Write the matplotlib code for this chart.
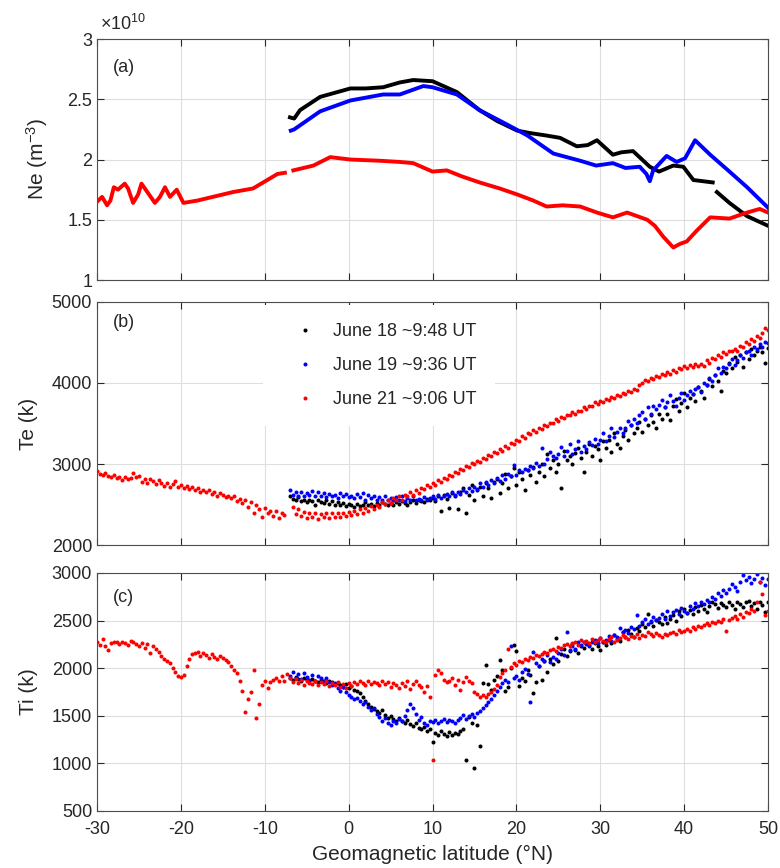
"""
plot.py - Ne / Te / Ti along three satellite passes vs geomagnetic latitude
"""

import numpy as np
import matplotlib
matplotlib.use("Agg")
import matplotlib.pyplot as plt

plt.rcParams["font.family"] = ["Liberation Sans", "DejaVu Sans"]
plt.rcParams["mathtext.fontset"] = "custom"
plt.rcParams["mathtext.rm"] = "Liberation Sans"
plt.rcParams["mathtext.it"] = "Liberation Sans:italic"
plt.rcParams["axes.unicode_minus"] = False

nan = np.nan

# ── Data ───────────────────────────────────────────────────────────────────────
LABELS = ["June 18 ~9:48 UT", "June 19 ~9:36 UT", "June 21 ~9:06 UT"]
COLORS = ["black", "blue", "red"]

# Ne (units of 1e10 m^-3)
NE_LAT_RED = [-30, -29.4, -28.8, -28.4, -28.0, -27.5, -26.7, -26.3, -25.7, -25.1,
              -24.7, -23.9, -23.1, -22.5, -21.9, -21.3, -20.5, -19.7, -18.0, -16.2,
              -13.8, -11.4, -9.7, -8.5, -7.6, -7.0, -6.6, -4.2, -2.2, 0.2,
              3.7, 6.1, 7.7, 10.0, 11.7, 13.5, 15.6, 18.0, 20.1, 22.0,
              23.6, 25.5, 27.6, 29.6, 31.5, 33.2, 35.6, 36.5, 37.5, 38.7,
              39.5, 40.3, 41.5, 43.1, 45.4, 47.5, 49.0, 50.0]
NE_RED = [1.65, 1.69, 1.62, 1.66, 1.77, 1.75, 1.80, 1.76, 1.64, 1.71,
          1.80, 1.72, 1.64, 1.69, 1.77, 1.69, 1.75, 1.64, 1.66, 1.69,
          1.73, 1.76, 1.83, 1.88, 1.89, nan, 1.91, 1.95, 2.02, 2.00,
          1.99, 1.98, 1.97, 1.90, 1.91, 1.86, 1.81, 1.76, 1.71, 1.66,
          1.61, 1.62, 1.61, 1.56, 1.52, 1.56, 1.50, 1.45, 1.36, 1.27,
          1.30, 1.32, 1.41, 1.52, 1.51, 1.56, 1.59, 1.56]

NE_LAT_BLACK = [-7.0, -6.5, -5.8, -3.4, 0.2, 2.0, 4.1, 6.1, 7.7, 10.0,
                12.9, 15.6, 17.7, 20.1, 21.6, 23.5, 25.2, 27.2, 28.5, 29.6,
                31.5, 32.5, 33.9, 35.9, 37.0, 38.7, 39.9, 41.1, 43.4, 43.7,
                43.9, 45.4, 47.5, 50.0]
NE_BLACK = [2.35, 2.34, 2.41, 2.52, 2.59, 2.59, 2.60, 2.64, 2.66, 2.65,
            2.56, 2.41, 2.32, 2.24, 2.22, 2.20, 2.18, 2.11, 2.12, 2.16,
            2.04, 2.06, 2.07, 1.94, 1.90, 1.95, 1.94, 1.83, 1.81, nan,
            1.73, 1.64, 1.53, 1.45]

NE_LAT_BLUE = [-6.9, -6.5, -3.4, 0.2, 4.1, 6.1, 8.9, 10.0, 12.9, 15.6,
               18.9, 21.3, 24.4, 27.6, 29.5, 31.5, 33.0, 34.7, 35.5, 35.9,
               36.3, 37.9, 39.1, 40.1, 41.3, 43.1, 45.4, 47.5, 50.0]
NE_BLUE = [2.24, 2.25, 2.40, 2.49, 2.54, 2.54, 2.61, 2.60, 2.54, 2.41,
           2.29, 2.20, 2.05, 1.99, 1.95, 1.97, 1.93, 1.94, 1.88, 1.82,
           1.91, 2.03, 1.98, 2.01, 2.16, 2.04, 1.90, 1.77, 1.60]

# Te / Ti samples every 1/3 degree
LAT_RED = np.round(np.arange(-30, 50 + 1e-6, 1 / 3), 2)   # 241 samples
LAT_BB  = np.round(np.arange(-7, 50 + 1e-6, 1 / 3), 2)    # 172 samples

TE_RED = [2910, 2880, 2860, 2890, 2850, 2840, 2860, 2830, 2845, 2800, 2840, 2820,
          2830, 2890, 2840, 2850, 2780, 2810, 2760, 2820, 2790, 2750, 2800, 2770,
          2730, 2770, 2720, 2750, 2790, 2720, 2740, 2700, 2730, 2690, 2720, 2680,
          2700, 2660, 2680, 2650, 2680, 2630, 2660, 2600, 2640, 2620, 2590, 2610,
          2580, 2600, 2540, 2570, 2520, 2560, 2470, 2530, 2400, 2500, 2450, 2350,
          2460, 2400, 2420, 2360, 2420, 2330, 2400, 2370, nan, nan, 2470, 2380,
          2440, 2360, 2410, 2330, 2400, 2350, 2390, 2320, 2380, 2340, 2400, 2330,
          2390, 2340, 2400, 2340, 2390, 2360, 2410, 2370, 2420, 2380, 2440, 2400,
          2460, 2420, 2480, 2450, 2500, 2470, 2530, 2510, 2550, 2520, 2580, 2560,
          2600, 2560, 2620, 2600, 2650, 2620, 2680, 2640, 2700, 2690, 2740, 2720,
          2760, 2740, 2800, 2780, 2830, 2810, 2870, 2850, 2900, 2890, 2940, 2920,
          2980, 2960, 3010, 3000, 3040, 3030, 3080, 3060, 3110, 3100, 3150, 3130,
          3180, 3160, 3220, 3200, 3260, 3250, 3300, 3290, 3340, 3320, 3380, 3370,
          3420, 3400, 3450, 3430, 3480, 3470, 3510, 3500, 3550, 3530, 3580, 3570,
          3610, 3600, 3640, 3620, 3660, 3650, 3700, 3680, 3720, 3710, 3760, 3740,
          3780, 3770, 3800, 3790, 3830, 3820, 3850, 3840, 3880, 3870, 3900, 3890,
          3930, 3910, 3970, 4000, 4040, 4020, 4060, 4050, 4090, 4080, 4110, 4100,
          4130, 4110, 4160, 4140, 4190, 4170, 4210, 4190, 4220, 4200, 4230, 4210,
          4240, 4210, 4280, 4250, 4310, 4290, 4340, 4320, 4380, 4360, 4400, 4390,
          4420, 4400, 4460, 4440, 4500, 4480, 4540, 4520, 4580, 4560, 4620, 4680,
          4650]

TE_BLUE = [2680, 2620, 2660, 2610, 2650, 2600, 2640, 2620, 2670, 2600, 2650, 2610,
           2640, 2590, 2630, 2600, 2620, 2580, 2640, 2600, 2630, 2590, 2610, 2580,
           2630, 2590, 2640, 2560, 2620, 2580, 2600, 2560, 2590, 2550, 2600, 2560,
           2580, 2550, 2590, 2560, 2600, 2540, 2580, 2560, 2600, 2550, 2570, 2560,
           2590, 2560, 2580, 2600, 2570, 2620, 2580, 2600, 2630, 2600, 2650, 2620,
           2660, 2630, 2680, 2650, 2700, 2670, 2720, 2690, 2760, 2720, 2780, 2740,
           2800, 2760, 2830, 2790, 2860, 2820, 2880, 2850, 2990, 2870, 2920, 2900,
           2940, 2920, 2980, 2950, 3010, 2970, 3200, 3000, 3060, 3150, 3100, 3080,
           3120, 3210, 3100, 3160, 3250, 3120, 3190, 3280, 3150, 3220, 3190, 3270,
           3230, 3310, 3250, 3300, 3380, 3280, 3350, 3450, 3330, 3400, 3440, 3380,
           3450, 3530, 3480, 3550, 3500, 3600, 3640, 3560, 3700, 3620, 3720, 3680,
           3730, 3790, 3700, 3760, 3850, 3780, 3720, 3820, 3880, 3790, 3850, 3900,
           3860, 3920, 3950, 3890, 4000, 3970, 4060, 4020, 4100, 4180, 4120, 4200,
           4180, 4240, 4300, 4220, 4280, 4350, 4310, 4380, 4400, 4350, 4450, 4420,
           4480, 4450, 4500, 4490]

TE_BLACK = [2600, 2570, 2560, 2590, 2540, 2560, 2530, 2550, 2540, 2500, 2560, 2530,
            2520, 2550, 2510, 2540, 2500, 2530, 2490, 2520, 2480, 2510, 2500, 2470,
            2510, 2480, 2500, 2530, 2490, 2510, 2480, 2520, 2500, 2530, 2510, 2490,
            2520, 2500, 2530, 2510, 2540, 2520, 2500, 2530, 2550, 2520, 2560, 2540,
            2530, 2570, 2550, 2580, 2540, 2600, 2420, 2620, 2570, 2460, 2640, 2600,
            2450, 2650, 2700, 2400, 2620, 2740, 2560, 2680, 2720, 2600, 2760, 2700,
            2580, 2780, 2820, 2640, 2760, 2880, 2700, 2850, 2950, 2740, 2900, 2820,
            2680, 2920, 2860, 2960, 2780, 2900, 3000, 2850, 3120, 2950, 3050, 2900,
            3000, 2700, 3160, 3050, 3100, 3000, 3140, 3200, 3080, 2900, 3150, 3250,
            3100, 3220, 3180, 3050, 3280, 3200, 3300, 3150, 3380, 3250, 3200, 3350,
            3420, 3300, 3480, 3380, 3450, 3520, 3400, 3560, 3480, 3600, 3520, 3450,
            3620, 3560, 3700, 3620, 3540, 3720, 3800, 3650, 3750, 3880, 3700, 3820,
            3860, 3780, 3950, 3900, 3820, 3980, 4050, 3960, 4100, 4020, 3900, 4150,
            4120, 4250, 4180, 4320, 4260, 4350, 4200, 4380, 4300, 4420, 4350, 4400,
            4450, 4380, 4250, 4430]

TI_RED = [2270, 2240, 2310, 2230, 2190, 2260, 2270, 2280, 2250, 2270, 2260, 2240,
          2290, 2280, 2250, 2230, 2260, 2210, 2250, 2160, 2230, 2200, 2170, 2130,
          2100, 2080, 2050, 2000, 1960, 1920, 1910, 1930, 2020, 2100, 2150, 2160,
          2170, 2130, 2160, 2140, 2110, 2150, 2120, 2100, 2130, 2110, 2090, 2060,
          2020, 1980, 1950, 1860, 1760, 1540, 1680, 1750, 1980, 1480, 1620, 1820,
          1870, 1790, 1850, 1880, 1900, 1860, 1920, 1870, 1940, 1900, 1850, 1890,
          1840, 1880, 1820, 1860, 1840, 1830, 1870, 1820, 1850, 1830, 1860, 1810,
          1840, 1820, 1850, 1800, 1830, 1790, 1840, 1810, 1850, 1830, 1870, 1840,
          1820, 1860, 1830, 1850, 1840, 1820, 1860, 1830, 1850, 1800, 1840, 1820,
          1790, 1840, 1810, 1860, 1780, 1830, 1870, 1820, 1800, 1750, 1810, 1700,
          1040, 1930, 1980, 1950, 1880, 1850, 1870, 1900, 1820, 1880, 1770, 1850,
          1910, 1860, 1840, 1750, 1730, 1700, 1720, 1700, 1730, 1750, 1780, 1820,
          1910, 1950, 1980, 2200, 2010, 2050, 2030, 2080, 2060, 2100, 2090, 2120,
          2110, 2140, 2130, 2150, 2170, 2160, 2190, 2200, 2180, 2220, 2210, 2240,
          2250, 2230, 2260, 2280, 2240, 2300, 2270, 2290, 2260, 2310, 2280, 2300,
          2320, 2290, 2270, 2310, 2330, 2280, 2300, 2320, 2350, 2330, 2310, 2340,
          2330, 2360, 2320, 2350, 2340, 2380, 2360, 2340, 2370, 2350, 2330, 2360,
          2350, 2370, 2380, 2360, 2400, 2380, 2390, 2410, 2390, 2430, 2410, 2440,
          2430, 2450, 2470, 2450, 2490, 2470, 2500, 2480, 2520, 2390, 2510, 2530,
          2550, 2520, 2570, 2540, 2590, 2580, 2620, 2600, 2700, 2910, 2780, 2560,
          2600]

TI_BLUE = [1920, 1960, 1900, 1940, 1890, 1950, 1910, 1880, 1930, 1870, 1920, 1900,
           1870, 1900, 1850, 1820, 1840, 1790, 1760, 1800, 1750, 1720, 1700, 1680,
           1690, 1650, 1620, 1640, 1590, 1560, 1580, 1520, 1490, 1450, 1480, 1420,
           1400, 1450, 1420, 1470, 1440, 1500, 1560, 1620, 1580, 1520, 1460, 1490,
           1420, 1400, 1450, 1430, 1460, 1420, 1440, 1470, 1430, 1460, 1440, 1420,
           1460, 1480, 1510, 1470, 1500, 1520, 1490, 1530, 1550, 1580, 1610, 1640,
           1680, 1720, 1760, 1800, 1840, 1880, 1850, 2230, 1900, 1920, 1880, 1960,
           1990, 1940, 1640, 2170, 2050, 2020, 2100, 2080, 2140, 2060, 2120, 2100,
           2160, 2200, 2140, 2380, 2190, 2230, 2200, 2270, 2240, 2280, 2250, 2230,
           2270, 2300, 2260, 2320, 2280, 2300, 2340, 2290, 2350, 2330, 2420, 2380,
           2400, 2370, 2430, 2410, 2560, 2440, 2480, 2520, 2460, 2500, 2540, 2510,
           2530, 2570, 2520, 2600, 2550, 2590, 2610, 2570, 2630, 2600, 2580, 2650,
           2620, 2680, 2650, 2700, 2670, 2720, 2690, 2750, 2730, 2790, 2760, 2820,
           2790, 2830, 2880, 2850, 2810, 2900, 2980, 2930, 2960, 2890, 2940, 2990,
           2900, 2950, 2870, 2940]

TI_BLACK = [1900, 1880, 1910, 1890, 1870, 1900, 1880, 1860, 1890, 1870, 1850, 1880,
            1860, 1840, 1870, 1850, 1830, 1840, 1820, 1800, 1830, 1790, 1810, 1770,
            1760, 1740, 1700, 1660, 1620, 1590, 1570, 1550, 1530, 1560, 1510, 1480,
            1500, 1470, 1450, 1480, 1440, 1420, 1460, 1410, 1390, 1420, 1370, 1360,
            1380, 1340, 1360, 1220, 1320, 1300, 1340, 1310, 1290, 1330, 1300, 1320,
            1310, 1340, 1360, 1040, 1490, 1420, 950, 1400, 1180, 1840, 2030, 1830,
            1770, 1880, 1920, 2090, 1980, 1760, 1800, 2000, 2240, 2180, 1810, 1900,
            1870, 1980, 1930, 1740, 1850, 2020, 1880, 2080, 1960, 2100, 2040, 2320,
            2080, 2150, 2200, 2130, 2180, 2250, 2190, 2160, 2230, 2210, 2270, 2240,
            2200, 2260, 2230, 2190, 2280, 2240, 2300, 2260, 2350, 2310, 2290, 2380,
            2330, 2400, 2360, 2330, 2420, 2390, 2460, 2430, 2570, 2480, 2440, 2510,
            2490, 2460, 2540, 2470, 2520, 2560, 2500, 2600, 2550, 2620, 2580, 2610,
            2570, 2640, 2600, 2660, 2620, 2590, 2650, 2700, 2670, 2630, 2680, 2660,
            2640, 2690, 2660, 2620, 2700, 2670, 2640, 2690, 2710, 2650, 2680, 2620,
            2700, 2660, 2590, 2690]

X_TICKS = list(range(-30, 51, 10))
TXT = "#262626"


# ── Helpers ────────────────────────────────────────────────────────────────────
def style_axis(ax, ylim, yticks, tag, tag_y):
    ax.set_xlim(-30, 50)
    ax.set_ylim(*ylim)
    ax.set_xticks(X_TICKS)
    ax.set_yticks(yticks)
    ax.grid(True, color="#dedede", lw=0.8)
    ax.set_axisbelow(True)
    ax.tick_params(direction="in", top=True, right=True, length=5, width=0.8,
                   labelsize=13, colors=TXT)
    for s in ax.spines.values():
        s.set_color("#4d4d4d"); s.set_linewidth(0.8)
    ax.text(0.024, tag_y, tag, transform=ax.transAxes, fontsize=13,
            color=TXT, va="center")


def dots(ax, x, y, c, label=None):
    return ax.plot(x, y, "o", ms=2.9, mec="none", mfc=c, label=label)[0]


# ── Figure ─────────────────────────────────────────────────────────────────────
fig = plt.figure(figsize=(7.8, 8.68), dpi=100)
ax_ne = fig.add_axes([0.1244, 0.6774, 0.8603, 0.2776])
ax_te = fig.add_axes([0.1244, 0.3721, 0.8603, 0.2800])
ax_ti = fig.add_axes([0.1244, 0.0657, 0.8603, 0.2742])

# (a) Ne
ax_ne.plot(NE_LAT_BLACK, NE_BLACK, color="black", lw=2.8)
ax_ne.plot(NE_LAT_BLUE, NE_BLUE, color="blue", lw=2.8)
ax_ne.plot(NE_LAT_RED, NE_RED, color="red", lw=2.8)
style_axis(ax_ne, (1, 3), [1, 1.5, 2, 2.5, 3], "(a)", 0.88)
ax_ne.set_yticklabels(["1", "1.5", "2", "2.5", "3"])
ax_ne.set_xticklabels([])
ax_ne.set_ylabel("Ne (m$^{-3}$)", fontsize=15, color=TXT)
ax_ne.yaxis.set_label_coords(-0.07, 0.5)
ax_ne.text(0.004, 1.02, r"$\times10^{10}$", transform=ax_ne.transAxes,
           fontsize=13, color=TXT, va="bottom")

# (b) Te
h = [dots(ax_te, LAT_BB, TE_BLACK, "black", LABELS[0]),
     dots(ax_te, LAT_BB, TE_BLUE, "blue", LABELS[1]),
     dots(ax_te, LAT_RED, TE_RED, "red", LABELS[2])]
style_axis(ax_te, (2000, 5000), [2000, 3000, 4000, 5000], "(b)", 0.914)
ax_te.set_xticklabels([])
ax_te.set_ylabel("Te (k)", fontsize=15, color=TXT)
ax_te.yaxis.set_label_coords(-0.088, 0.5)
leg = ax_te.legend(handles=h, loc="upper left", bbox_to_anchor=(0.2474, 0.988),
                   borderaxespad=0, fontsize=13, frameon=True, fancybox=False,
                   edgecolor="none", facecolor="white", framealpha=1,
                   handlelength=2.6, handletextpad=0.3, borderpad=1.0,
                   labelspacing=0.95, numpoints=1, markerscale=1.0)
for t in leg.get_texts():
    t.set_color(TXT)

# (c) Ti
dots(ax_ti, LAT_BB, TI_BLACK, "black")
dots(ax_ti, LAT_BB, TI_BLUE, "blue")
dots(ax_ti, LAT_RED, TI_RED, "red")
style_axis(ax_ti, (500, 3000), [500, 1000, 1500, 2000, 2500, 3000], "(c)", 0.895)
ax_ti.tick_params(axis="x", pad=7)
ax_ti.set_ylabel("Ti (k)", fontsize=15, color=TXT)
ax_ti.yaxis.set_label_coords(-0.088, 0.5)
ax_ti.set_xlabel("Geomagnetic latitude (°N)", fontsize=15, color=TXT, labelpad=5)

fig.savefig("out.png", dpi=100)
print("[OK] saved out.png")
